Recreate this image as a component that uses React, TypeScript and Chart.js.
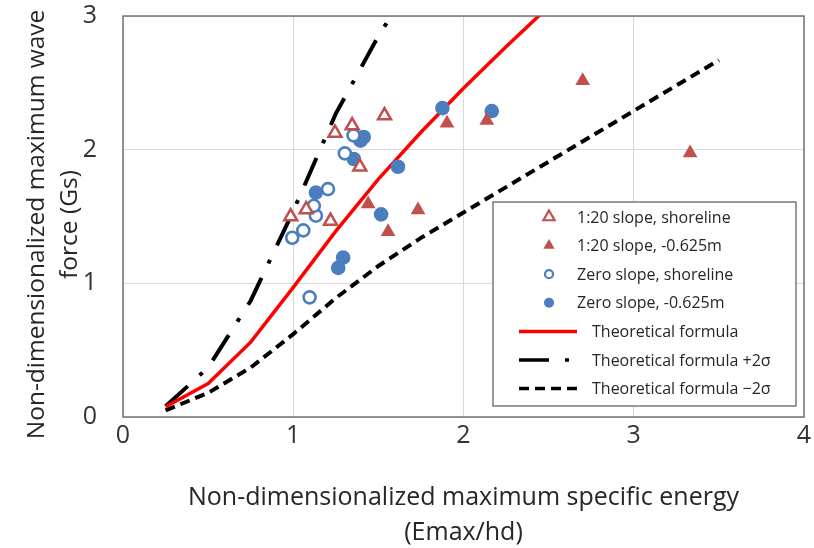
import React, { useEffect, useRef } from 'react';
import { Chart, registerables } from 'chart.js';

Chart.register(...registerables);

// ---------- data ----------
const xTickValues = [0, 1, 2, 3, 4];
const yTickValues = [0, 1, 2, 3];

const slopeShoreX = [0.985, 1.076, 1.219, 1.245, 1.346, 1.391, 1.536];
const slopeShoreY = [1.5, 1.553, 1.466, 2.125, 2.18, 1.872, 2.255];

const slopeDeepX = [1.44, 1.557, 1.733, 1.903, 2.137, 2.7, 3.331];
const slopeDeepY = [1.593, 1.386, 1.548, 2.197, 2.218, 2.515, 1.975];

const zeroShoreX = [0.994, 1.059, 1.133, 1.121, 1.204, 1.303, 1.354, 1.096];
const zeroShoreY = [1.341, 1.396, 1.506, 1.58, 1.705, 1.972, 2.107, 0.895];

const zeroDeepX = [1.133, 1.414, 1.395, 1.356, 1.615, 1.516, 1.293, 1.264, 1.876, 2.166];
const zeroDeepY = [1.679, 2.095, 2.067, 1.93, 1.872, 1.516, 1.192, 1.116, 2.311, 2.289];

const theoryX = [0.25, 0.5, 0.75, 1.0, 1.25, 1.5, 1.75, 2.0, 2.25, 2.5];
const theoryY = [0.077, 0.25, 0.56, 0.97, 1.39, 1.78, 2.13, 2.46, 2.77, 3.07];

const plusX = [0.25, 0.5, 0.75, 1.0, 1.25, 1.5, 1.75];
const plusY = [0.08, 0.37, 0.87, 1.54, 2.27, 2.85, 3.35];

const minusX = [0.25, 0.5, 0.75, 1.0, 1.25, 1.5, 1.75, 2.0, 2.25, 2.5, 2.75, 3.0, 3.25, 3.5];
const minusY = [0.05, 0.18, 0.37, 0.62, 0.89, 1.13, 1.34, 1.53, 1.72, 1.91, 2.1, 2.29, 2.48, 2.67];

const seriesLabels = [
  '1:20 slope, shoreline',
  '1:20 slope, -0.625m',
  'Zero slope, shoreline',
  'Zero slope, -0.625m',
  'Theoretical formula',
  'Theoretical formula +2\u03C3',
  'Theoretical formula \u22122\u03C3',
];

const xTitle = ['Non-dimensionalized maximum specific energy', '(Emax/hd)'];
const yTitle = ['Non-dimensionalized maximum wave', 'force (Gs)'];

// ---------- styles ----------
const RED = '#C0504D';
const BLUE = '#4A7EBF';
const FONT = "'Open Sans', 'Noto Sans', sans-serif";
const DASHDOT = [30, 16, 4, 16];
const DASH = [10, 6];

const pts = (xs: number[], ys: number[]) => xs.map((x, i) => ({ x, y: ys[i] }));

const framePlugin = {
  id: 'frameAndLegend',
  afterDraw(chart: any) {
    const { ctx, chartArea: a } = chart;
    ctx.save();
    // frame
    ctx.strokeStyle = '#6b6b6b';
    ctx.lineWidth = 1.4;
    ctx.strokeRect(a.left, a.top, a.right - a.left, a.bottom - a.top);

    // y axis title (two lines, rotated)
    ctx.save();
    ctx.font = `24.5px ${FONT}`;
    ctx.fillStyle = '#262626';
    ctx.textAlign = 'center';
    ctx.textBaseline = 'middle';
    const cy = (a.top + a.bottom) / 2 + 8;
    yTitle.forEach((line, i) => {
      ctx.save();
      ctx.translate(37 + i * 33, cy);
      ctx.rotate(-Math.PI / 2);
      ctx.fillText(line, 0, 0);
      ctx.restore();
    });
    ctx.restore();

    // legend box
    const lx = a.left + 370;
    const ly = a.top + 186;
    const lw = 303;
    const lh = 204;
    ctx.fillStyle = '#ffffff';
    ctx.fillRect(lx, ly, lw, lh);
    ctx.strokeStyle = '#595959';
    ctx.lineWidth = 1.2;
    ctx.strokeRect(lx, ly, lw, lh);

    ctx.font = `16px ${FONT}`;
    ctx.textBaseline = 'middle';
    ctx.textAlign = 'left';
    const rowY = (i: number) => ly + 15 + i * 28.6;
    const markerX = lx + 56;
    chart.data.datasets.forEach((ds: any, i: number) => {
      const y = rowY(i);
      ctx.save();
      if (i < 4) {
        const tri = ds.pointStyle === 'triangle';
        const hollow = ds.backgroundColor === '#ffffff';
        ctx.beginPath();
        if (tri) {
          const r = 6.5;
          ctx.moveTo(markerX, y - r);
          ctx.lineTo(markerX + r * 0.866, y + r * 0.5);
          ctx.lineTo(markerX - r * 0.866, y + r * 0.5);
          ctx.closePath();
        } else {
          ctx.arc(markerX, y, hollow ? 4 : 5, 0, Math.PI * 2);
        }
        ctx.fillStyle = ds.backgroundColor;
        ctx.fill();
        if (hollow) {
          ctx.lineWidth = 2.2;
          ctx.strokeStyle = ds.borderColor;
          ctx.stroke();
        }
        ctx.fillStyle = '#262626';
        ctx.fillText(ds.label, lx + 84, y + 1);
      } else {
        ctx.beginPath();
        ctx.setLineDash(ds.borderDash || []);
        ctx.strokeStyle = ds.borderColor;
        ctx.lineWidth = 3.5;
        ctx.moveTo(lx + 26, y);
        ctx.lineTo(lx + 84, y);
        ctx.stroke();
        ctx.setLineDash([]);
        ctx.fillStyle = '#262626';
        ctx.fillText(ds.label, lx + 99, y + 1);
      }
      ctx.restore();
    });
    ctx.restore();
  },
};

export default function App() {
  const ref = useRef<HTMLCanvasElement>(null);

  useEffect(() => {
    document.body.style.margin = '0';
    const canvas = ref.current!;
    const chart = new Chart(canvas, {
      type: 'scatter',
      data: {
        datasets: [
          {
            label: seriesLabels[0],
            data: pts(slopeShoreX, slopeShoreY),
            pointStyle: 'triangle',
            pointRadius: 7.5,
            pointBorderWidth: 2.5,
            borderColor: RED,
            backgroundColor: '#ffffff',
          },
          {
            label: seriesLabels[1],
            data: pts(slopeDeepX, slopeDeepY),
            pointStyle: 'triangle',
            pointRadius: 8.5,
            pointBorderWidth: 0,
            borderColor: RED,
            backgroundColor: RED,
          },
          {
            label: seriesLabels[2],
            data: pts(zeroShoreX, zeroShoreY),
            pointStyle: 'circle',
            pointRadius: 6,
            pointBorderWidth: 2.6,
            borderColor: BLUE,
            backgroundColor: '#ffffff',
          },
          {
            label: seriesLabels[3],
            data: pts(zeroDeepX, zeroDeepY),
            pointStyle: 'circle',
            pointRadius: 7.3,
            pointBorderWidth: 0,
            borderColor: BLUE,
            backgroundColor: BLUE,
          },
          {
            label: seriesLabels[4],
            data: pts(theoryX, theoryY),
            showLine: true,
            pointRadius: 0,
            borderColor: '#FF0000',
            backgroundColor: '#FF0000',
            borderWidth: 3.5,
            tension: 0,
          },
          {
            label: seriesLabels[5],
            data: pts(plusX, plusY),
            showLine: true,
            pointRadius: 0,
            borderColor: '#000000',
            backgroundColor: '#000000',
            borderWidth: 4,
            borderDash: DASHDOT,
            tension: 0,
          },
          {
            label: seriesLabels[6],
            data: pts(minusX, minusY),
            showLine: true,
            pointRadius: 0,
            borderColor: '#000000',
            backgroundColor: '#000000',
            borderWidth: 4,
            borderDash: DASH,
            tension: 0,
          },
        ],
      },
      options: {
        responsive: false,
        animation: false,
        events: [],
        layout: { padding: { top: 16, right: 9, left: 0, bottom: 0 } },
        plugins: { legend: { display: false }, tooltip: { enabled: false } },
        scales: {
          x: {
            type: 'linear',
            min: 0,
            max: 4,
            afterBuildTicks: (s: any) => {
              s.ticks = xTickValues.map((v) => ({ value: v }));
            },
            afterFit: (s: any) => {
              s.height = 131;
              s.paddingLeft = 0;
              s.paddingRight = 0;
            },
            ticks: {
              font: { family: FONT, size: 25 },
              color: '#333333',
              padding: 4,
            },
            grid: { color: '#d9d9d9', lineWidth: 1, drawTicks: false },
            border: { display: false },
            title: {
              display: true,
              text: xTitle,
              font: { family: FONT, size: 25, lineHeight: 1.42 },
              color: '#262626',
              padding: { top: 0, bottom: -3 },
            },
          },
          y: {
            type: 'linear',
            min: 0,
            max: 3,
            afterBuildTicks: (s: any) => {
              s.ticks = yTickValues.map((v) => ({ value: v }));
            },
            afterFit: (s: any) => {
              s.width = 123;
              s.paddingTop = 0;
              s.paddingBottom = 0;
            },
            ticks: {
              font: { family: FONT, size: 25 },
              color: '#333333',
              padding: 26,
            },
            grid: { color: '#d9d9d9', lineWidth: 1, drawTicks: false },
            border: { display: false },
            title: { display: false },
          },
        },
      },
      plugins: [framePlugin],
    });
    return () => chart.destroy();
  }, []);

  return <canvas ref={ref} width={814} height={548} style={{ display: 'block' }} />;
}
